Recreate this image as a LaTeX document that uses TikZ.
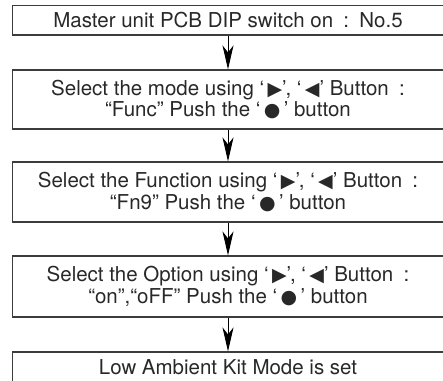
\documentclass[tikz,border=0pt]{standalone}
\usepackage{fontspec}
\setmainfont{TeX Gyre Heros}
\newfontfamily\symfont{DejaVu Sans}
\newcommand{\btn}[1]{{\symfont\fontsize{19}{21}\selectfont #1}}
\usetikzlibrary{arrows.meta,positioning}
\definecolor{BoxGray}{RGB}{60,60,60}
\definecolor{TextGray}{RGB}{40,40,40}

\begin{document}
\begin{tikzpicture}[x=1pt, y=-1pt,
    sstep/.style={draw=BoxGray, line width=1.2pt, minimum width=431.5pt, inner sep=0pt, align=center, text=TextGray, font=\fontsize{20.5}{21.5}\selectfont},
    darrow/.style={-{Stealth[length=24pt,width=11pt,inset=7pt]}, line width=0.9pt, draw=black}
  ]
    \useasboundingbox (0,0) rectangle (443,380);
    \clip (0,0) rectangle (443,380);
    \node[sstep, minimum height=29.5pt] (dip) at (228,20.25) {Master unit PCB DIP switch on\enspace:\enspace No.5};
    \node[sstep, minimum height=59pt] (mode) at (228,99.5) {Select the mode using ‘\,\btn{▶}’, ‘\,\btn{◀}’ Button\enspace:\\“Func” Push the ‘\,\btn{●}\,’ button};
    \node[sstep, minimum height=60pt] (func) at (228,192) {Select the Function using ‘\,\btn{▶}’, ‘\,\btn{◀}’ Button\enspace:\\“Fn9” Push the ‘\,\btn{●}\,’ button};
    \node[sstep, minimum height=61pt] (opt) at (228,286.5) {Select the Option using ‘\,\btn{▶}’, ‘\,\btn{◀}’ Button\enspace:\\“on”,“oFF” Push the ‘\,\btn{●}\,’ button};
    \node[sstep, minimum height=30pt] (set) at (228,367) {Low Ambient Kit Mode is set};

    \draw[darrow] (dip.south) -- (mode.north);
    \draw[darrow] (mode.south) -- (func.north);
    \draw[darrow] (func.south) -- (opt.north);
    \draw[darrow] (opt.south) -- (set.north);
\end{tikzpicture}
\end{document}
